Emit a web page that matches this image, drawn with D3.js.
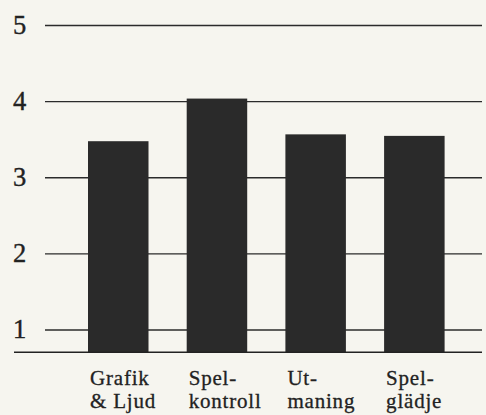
<!DOCTYPE html>
<html>
<head>
<meta charset="utf-8">
<script src="https://cdn.jsdelivr.net/npm/d3@7"></script>
<style>
  body { margin: 0; background: #f6f5ef; }
</style>
</head>
<body>
<div id="container"></div>
<script>
let w = 486;
let h = 415;
let fontName = "'Liberation Serif', 'Times New Roman', Times, serif";

// data
let categories = ["Grafik & Ljud", "Spelkontroll", "Utmaning", "Spelglädje"];
let labelLines = [["Grafik", "& Ljud"], ["Spel-", "kontroll"], ["Ut-", "maning"], ["Spel-", "glädje"]];
let values = [3.48, 4.04, 3.57, 3.55];
let yTicks = [1, 2, 3, 4, 5];

let viz = d3.select("#container").append("svg")
    .attr("width", w)
    .attr("height", h)
    .style("background-color", "#f6f5ef")
;

let xScale = d3.scaleBand()
    .domain(categories)
    .range([88, 444.6])
    .paddingInner(0.387)
    .paddingOuter(0);

let yScale = d3.scaleLinear()
    .domain([0.707, 5])
    .range([352.3, 25.5]);

// gridlines
viz.append("g").attr("class", "grid")
  .selectAll("line").data(yTicks).enter()
  .append("line")
    .attr("x1", 45)
    .attr("x2", 482)
    .attr("y1", d => yScale(d))
    .attr("y2", d => yScale(d))
    .attr("stroke", "#2b2b2b")
    .attr("stroke-width", 1.4)
;

// y labels
viz.append("g").attr("class", "ylabels")
  .selectAll("text").data(yTicks).enter()
  .append("text")
    .attr("x", 13)
    .attr("y", d => yScale(d) + 8.5)
    .attr("font-family", fontName)
    .attr("font-size", 26.5)
    .attr("fill", "#222")
    .attr("stroke", "#222")
    .attr("stroke-width", 0.4)
    .text(d => d)
;

// bars
viz.append("g").attr("class", "bars")
  .selectAll("rect").data(values).enter()
  .append("rect")
    .attr("x", (d, i) => xScale(categories[i]))
    .attr("width", xScale.bandwidth())
    .attr("y", d => yScale(d))
    .attr("height", d => yScale(0.707) - yScale(d))
    .attr("fill", "#2a2a2a")
;

// baseline
viz.append("line")
    .attr("x1", 14)
    .attr("x2", 482)
    .attr("y1", yScale(0.707))
    .attr("y2", yScale(0.707))
    .attr("stroke", "#222")
    .attr("stroke-width", 1.6)
;

// category labels
let labels = viz.append("g").attr("class", "xlabels")
  .selectAll("text").data(labelLines).enter()
  .append("text")
    .attr("x", (d, i) => xScale(categories[i]) + 2)
    .attr("y", 385)
    .attr("font-family", fontName)
    .attr("font-size", 21)
    .attr("fill", "#222")
    .attr("stroke", "#222")
    .attr("stroke-width", 0.3)
    .attr("letter-spacing", 0.8)
;
labels.selectAll("tspan").data(d => d).enter()
  .append("tspan")
    .attr("x", function () { return d3.select(this.parentNode).attr("x"); })
    .attr("dy", (d, i) => i == 0 ? 0 : 23)
    .text(d => d)
;
</script>
</body>
</html>
